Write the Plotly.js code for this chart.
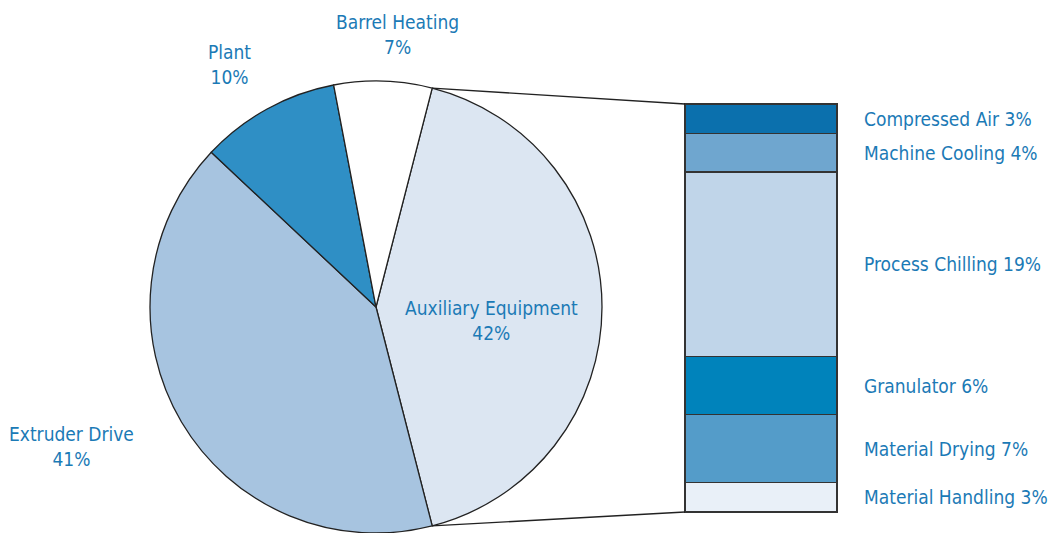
<!DOCTYPE html>
<html><head><meta charset="utf-8">
<script src="https://cdn.plot.ly/plotly-3.0.1.min.js"></script>
<style>html,body{margin:0;padding:0;overflow:hidden;background:#fff}</style>
</head><body>
<div id="chart" style="width:1056px;height:533px"></div>
<script>
// Pie data
const pieLabels = ["Auxiliary Equipment", "Extruder Drive", "Plant", "Barrel Heating"];
const pieValues = [42, 41, 10, 7];
const pieColors = ["#dce6f2", "#a7c4e0", "#2f8fc5", "#ffffff"];
// Breakdown of Auxiliary Equipment (top to bottom)
const auxLabels = ["Compressed Air", "Machine Cooling", "Process Chilling", "Granulator", "Material Drying", "Material Handling"];
const auxValues = [3, 4, 19, 6, 7, 3];
const auxColors = ["#0b70ad", "#6fa6cf", "#c0d5e9", "#0083bb", "#549cc9", "#e9f0f8"];

const W = 1056, H = 533;
const FONT = "'Liberation Sans Narrow', 'DejaVu Sans Condensed', Arial, sans-serif";
const TXT = "#1b7ab6";
const FS = 19;

const pieDomX = [150 / W, 602 / W];
const pieDomY = [0, 1 - 81 / H];
// bar occupies pixels x 685..837, y 104..512; pad 1px so outlines are not clipped
const barPx = {x0: 685, x1: 837, y0: 104, y1: 512};
const PAD = 1.5;
const barDomX = [(barPx.x0 - PAD) / W, (barPx.x1 + PAD) / W];
const barDomY = [1 - (barPx.y1 + PAD) / H, 1 - (barPx.y0 - PAD) / H];

const pieTotal = pieValues.reduce((a, b) => a + b, 0);
const auxTotal = auxValues.reduce((a, b) => a + b, 0);
const rotation = 90 - pieValues[0] / pieTotal * 180;

const xPad = PAD / (barPx.x1 - barPx.x0);
const yPad = PAD / (barPx.y1 - barPx.y0) * auxTotal;

const traces = [{
  type: "pie", labels: pieLabels, values: pieValues, sort: false,
  direction: "clockwise", rotation: rotation,
  marker: {colors: pieColors, line: {color: "#222", width: 1.3}},
  textinfo: "none", hoverinfo: "label+percent",
  domain: {x: pieDomX, y: pieDomY}, showlegend: false
}];
// stacked bar, bottom segment first
for (let i = auxLabels.length - 1; i >= 0; i--) {
  traces.push({
    type: "bar", x: [0], y: [auxValues[i]], name: auxLabels[i], width: 1,
    marker: {color: auxColors[i], line: {color: "#333", width: 1.2}},
    xaxis: "x", yaxis: "y", showlegend: false, hoverinfo: "name+y"
  });
}

// geometry for connector lines
const cxPx = (pieDomX[0] + pieDomX[1]) / 2 * W;
const cyPx = (1 - (pieDomY[0] + pieDomY[1]) / 2) * H;
const rPx = Math.min((pieDomX[1] - pieDomX[0]) * W, (pieDomY[1] - pieDomY[0]) * H) / 2;
function ptAt(deg) {
  const a = deg * Math.PI / 180;
  return [(cxPx + rPx * Math.sin(a)) / W, 1 - (cyPx - rPx * Math.cos(a)) / H];
}
const pStart = ptAt(rotation);
const pEnd = ptAt(rotation + pieValues[0] / pieTotal * 360);
const shapes = [
  {type: "line", xref: "paper", yref: "paper", x0: pStart[0], y0: pStart[1], x1: barPx.x0 / W, y1: 1 - barPx.y0 / H, line: {color: "#222", width: 1.3}},
  {type: "line", xref: "paper", yref: "paper", x0: pEnd[0], y0: pEnd[1], x1: barPx.x0 / W, y1: 1 - barPx.y1 / H, line: {color: "#222", width: 1.3}}
];

// annotations
const annotations = [];
const pieLabelPos = [[491, 320], [71, 446], [229, 64], [397, 34]];
pieLabels.forEach((l, i) => {
  annotations.push({
    xref: "paper", yref: "paper", x: pieLabelPos[i][0] / W, y: 1 - pieLabelPos[i][1] / H,
    xanchor: "center", yanchor: "middle", showarrow: false, align: "center",
    text: l + "<br>" + pieValues[i] + "%", font: {family: FONT, size: FS, color: TXT}
  });
});
let cum = auxTotal;
auxLabels.forEach((l, i) => {
  const mid = cum - auxValues[i] / 2;
  cum -= auxValues[i];
  annotations.push({
    xref: "paper", yref: "y", x: 862 / W, y: mid, xanchor: "left", yanchor: "middle",
    showarrow: false, text: l + " " + auxValues[i] + "%", font: {family: FONT, size: FS, color: TXT}
  });
});

const layout = {
  width: W, height: H, margin: {l: 0, r: 0, t: 0, b: 0},
  paper_bgcolor: "#fff", plot_bgcolor: "rgba(0,0,0,0)",
  barmode: "stack", bargap: 0,
  xaxis: {domain: barDomX, range: [-0.5 - xPad, 0.5 + xPad], visible: false, fixedrange: true},
  yaxis: {domain: barDomY, range: [-yPad, auxTotal + yPad], visible: false, fixedrange: true},
  shapes: shapes, annotations: annotations, showlegend: false
};
Plotly.newPlot("chart", traces, layout, {displayModeBar: false, staticPlot: true});
</script>
</body></html>
